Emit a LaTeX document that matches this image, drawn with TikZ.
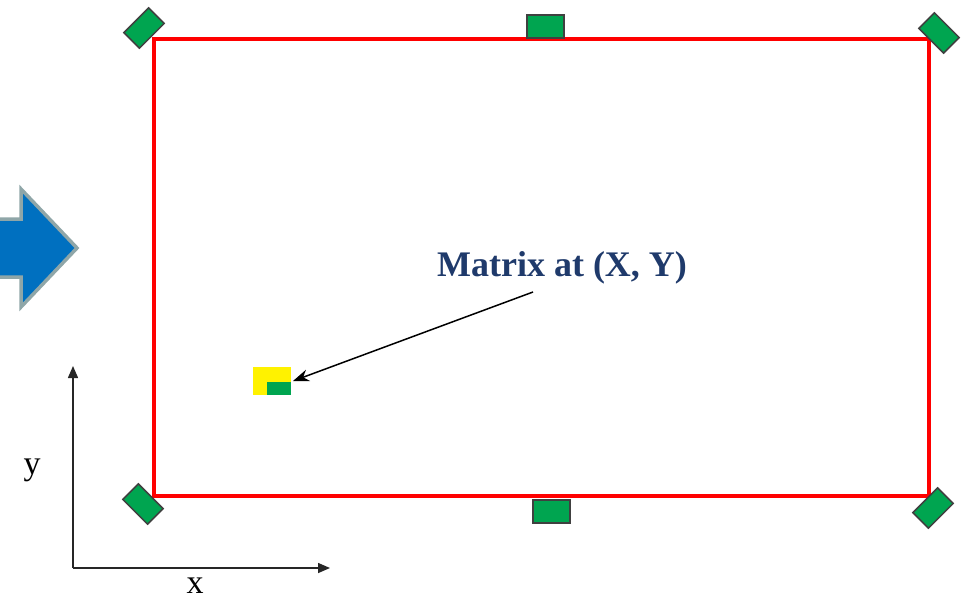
\documentclass[tikz,border=0pt]{standalone}
\usepackage{fontspec}
\setmainfont{Liberation Serif}
\usetikzlibrary{arrows.meta}
\definecolor{gbox}{HTML}{00A550}
\definecolor{bluearr}{HTML}{0070C0}
\definecolor{grayedge}{HTML}{8FA6A8}
\definecolor{navytext}{HTML}{1F3A6B}
\tikzset{
  handle/.style={draw=black!75, line width=1.5pt, fill=gbox, minimum width=35pt, minimum height=22pt, inner sep=0pt},
  axis/.style={line width=1.5pt, draw=black!85, -{Triangle[length=12pt,width=10pt]}},
  lbl/.style={font=\fontsize{34}{38}\selectfont, inner sep=0pt},
}
\begin{document}
\begin{tikzpicture}[x=1pt,y=-1pt]
\useasboundingbox (0,0) rectangle (963,603);
% blue arrow
\draw[fill=bluearr, draw=grayedge, line width=3.5pt, line join=miter]
  (-10,219) -- (21,219) -- (21,189) -- (77,248) -- (21,307) -- (21,277) -- (-10,277) -- cycle;
% red frame
\draw[red, line width=3.2pt] (154,39) rectangle (929,496);
% handles
\node[handle, rotate=45] (tl) at (144,28) {};
\node[handle, rotate=-45] (tr) at (939,33) {};
\node[handle, rotate=-45] (bl) at (143,504) {};
\node[handle, rotate=45] (br) at (933,508) {};
\node[handle, minimum width=37pt, minimum height=23pt] (tm) at (545.5,26.5) {};
\node[handle, minimum width=37pt, minimum height=23pt] (bm) at (551.5,511.5) {};
% matrix marker
\fill[yellow] (253,367) rectangle (291,395);
\fill[gbox] (267,382) rectangle (291,395);
\coordinate (mk) at (293,381);
% label
\node[font=\bfseries\fontsize{36}{40}\selectfont, text=navytext, inner sep=0pt] (lab) at (562,268) {Matrix at (X, Y)};
\coordinate (ls) at (533,292);
\draw[line width=1.5pt, -{Stealth[length=16pt,width=12pt]}] (ls) -- (mk);
% axes
\coordinate (o) at (73,568);
\coordinate (yt) at (73,366);
\coordinate (xt) at (330,568);
\draw[axis] (o) -- (yt);
\draw[axis] (o) -- (xt);
\node[lbl] (ylab) at (32,470) {y};
\node[lbl] (xlab) at (195,586) {x};
\end{tikzpicture}
\end{document}
